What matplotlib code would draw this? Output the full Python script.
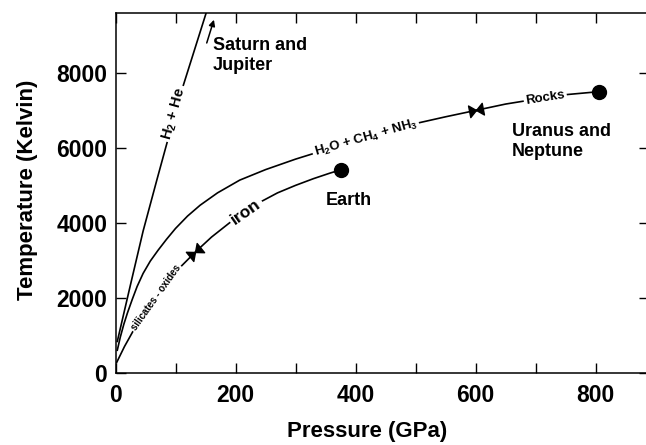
import numpy as np
import matplotlib.pyplot as plt
from matplotlib.path import Path
from matplotlib.markers import MarkerStyle
from matplotlib.transforms import Affine2D
from matplotlib.ticker import MultipleLocator

plt.rcParams['font.family'] = ['Liberation Sans', 'DejaVu Sans']
plt.rcParams['font.weight'] = 'bold'
plt.rcParams['mathtext.fontset'] = 'custom'
plt.rcParams['mathtext.rm'] = 'Liberation Sans:bold'
plt.rcParams['mathtext.it'] = 'Liberation Sans:bold'
plt.rcParams['mathtext.default'] = 'rm'

# pressure (GPa) / temperature (K) along each adiabat
h2he_p = [3, 25, 46, 69, 90, 112, 151]
h2he_t = [835, 2350, 3780, 5150, 6380, 7620, 9600]

ice_p = [3, 8, 14, 20, 28, 36, 46, 58, 71, 85, 100, 120, 141, 170, 207, 250, 300,
         350, 400, 450, 500, 550, 600, 650, 700, 750, 805]
ice_t = [600, 950, 1300, 1600, 1960, 2300, 2650, 2980, 3270, 3560, 3850, 4180, 4470, 4800, 5140, 5420, 5700,
         5950, 6180, 6400, 6650, 6830, 7000, 7170, 7300, 7420, 7500]

rock_p = [2, 15, 30, 50, 70, 90, 110, 133, 160, 190, 215, 243, 270, 300, 330, 357, 375]
rock_t = [275, 700, 1130, 1620, 2060, 2460, 2850, 3220, 3620, 4000, 4300, 4570, 4800, 5000, 5180, 5325, 5413]

# planet end points
planet_p = [375, 805]
planet_t = [5413, 7500]

# layer boundaries (P, T, angle of curve in degrees)
bound_p = [133, 600]
bound_t = [3220, 7000]
bound_ang = [39, 11]

fig = plt.figure(figsize=(6.46, 4.45), dpi=100)
ax = fig.add_axes([115.5 / 646, 72.3 / 445, 533 / 646, 359.7 / 445])

lw = 1.2
ax.plot(h2he_p, h2he_t, color='black', lw=lw)
ax.plot(ice_p, ice_t, color='black', lw=lw)
ax.plot(rock_p, rock_t, color='black', lw=lw)
ax.plot(planet_p, planet_t, 'o', color='black', ms=10)

# bowtie marker for composition boundaries
verts = [(-1, 0.85), (0, 0), (-1, -0.85), (-1, 0.85),
         (1, 0.85), (0, 0), (1, -0.85), (1, 0.85)]
codes = [Path.MOVETO, Path.LINETO, Path.LINETO, Path.CLOSEPOLY] * 2
bowtie = Path(verts, codes)
for p, t, a in zip(bound_p, bound_t, bound_ang):
    m = MarkerStyle(bowtie, transform=Affine2D().rotate_deg(a))
    ax.plot(p, t, marker=m, color='black', ms=10, ls='none')

box = dict(boxstyle='square,pad=0.15', fc='white', ec='none')
ax.text(98.5, 6910, r'H$_2$ + He', rotation=74.5, ha='center', va='center',
        rotation_mode='anchor', fontsize=10.5, bbox=box)
ax.text(417, 6260, r'H$_2$O + CH$_4$ + NH$_3$', rotation=16, ha='center', va='center',
        rotation_mode='anchor', fontsize=9.5, bbox=box)
ax.text(716, 7335, 'Rocks', rotation=9, ha='center', va='center',
        rotation_mode='anchor', fontsize=9.5, bbox=box)
ax.text(67, 2000, 'silicates - oxides', rotation=54.5, ha='center', va='center',
        rotation_mode='anchor', fontsize=7, bbox=box)
ax.text(217.5, 4298, 'iron', rotation=35, ha='center', va='center',
        rotation_mode='anchor', fontsize=12.5, bbox=box)

ax.text(162.5, 8960, 'Saturn and\nJupiter', ha='left', va='top', fontsize=13, linespacing=1.25)
ax.text(661, 6660, 'Uranus and\nNeptune', ha='left', va='top', fontsize=13, linespacing=1.2)
ax.text(389, 4830, 'Earth', ha='center', va='top', fontsize=13)

ax.annotate('', xy=(164, 9420), xytext=(152, 8800),
            arrowprops=dict(arrowstyle='-|>', color='black', lw=1.1,
                            mutation_scale=9, shrinkA=0, shrinkB=0))

ax.set_xlim(0, 888)
ax.set_ylim(0, 9600)
ax.xaxis.set_major_locator(MultipleLocator(200))
ax.xaxis.set_minor_locator(MultipleLocator(100))
ax.yaxis.set_major_locator(MultipleLocator(2000))
ax.tick_params(which='both', direction='in', length=7, width=1, top=True, right=True,
               labelsize=16.5)
ax.tick_params(axis='x', pad=8)
ax.tick_params(axis='y', pad=6)
for s in ax.spines.values():
    s.set_linewidth(1.1)

fig.text(367.5 / 646, 1 - 432 / 445, 'Pressure (GPa)', ha='center', va='center', fontsize=16)
fig.text(28 / 646, 1 - 190 / 445, 'Temperature (Kelvin)', ha='center', va='center',
         rotation=90, fontsize=16)

fig.savefig('out.png', dpi=100)
